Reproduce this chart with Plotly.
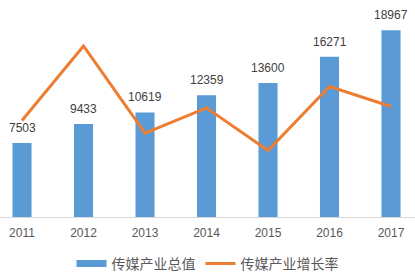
import plotly.graph_objects as go

years = ["2011", "2012", "2013", "2014", "2015", "2016", "2017"]
total_value = [7503, 9433, 10619, 12359, 13600, 16271, 18967]
growth_rate = [14.5, 25.7, 12.6, 16.4, 10.0, 19.6, 16.6]
bar_name = "传媒产业总值"
line_name = "传媒产业增长率"

BLUE = "#5B9BD5"
ORANGE = "#ED7D31"

fig = go.Figure()
fig.add_trace(go.Bar(
    x=years, y=total_value, name=bar_name, showlegend=False,
    marker=dict(color=BLUE, line=dict(width=0)),
    width=0.31,
))
# legend proxy: wide flat swatch like the reference's bar key
fig.add_trace(go.Scatter(
    x=[None], y=[None], name=bar_name, mode="lines",
    line=dict(color=BLUE, width=7),
))
fig.add_trace(go.Scatter(
    x=years, y=growth_rate, name=line_name, yaxis="y2",
    mode="lines", line=dict(color=ORANGE, width=3),
))

for i, v in enumerate(total_value):
    fig.add_annotation(
        x=i, y=v, xref="x", yref="y", text=str(v), showarrow=False,
        yanchor="bottom", yshift=6,
        font=dict(family="Liberation Sans, Arial", size=12, color="#404040"),
    )

fig.update_layout(
    width=415, height=280,
    margin=dict(l=0, r=0, t=20, b=62),
    paper_bgcolor="white", plot_bgcolor="white",
    showlegend=True,
    legend=dict(
        orientation="h", x=0.5, xanchor="center", y=-0.237, yanchor="middle",
        font=dict(family="Noto Sans CJK SC", size=14, color="#595959"),
        traceorder="normal", itemwidth=30,
    ),
    xaxis=dict(
        type="category", range=[-0.358, 6.39],
        showline=True, linecolor="#D9D9D9", linewidth=1,
        ticks="outside", ticklen=5, tickcolor="rgba(0,0,0,0)",
        tickfont=dict(family="Liberation Sans, Arial", size=12, color="#595959"),
        showgrid=False, zeroline=False,
    ),
    yaxis=dict(range=[0, 20000], visible=False, showgrid=False, zeroline=False),
    yaxis2=dict(range=[0, 29.6], overlaying="y", visible=False,
                showgrid=False, zeroline=False),
)

fig.write_html("out.html")
